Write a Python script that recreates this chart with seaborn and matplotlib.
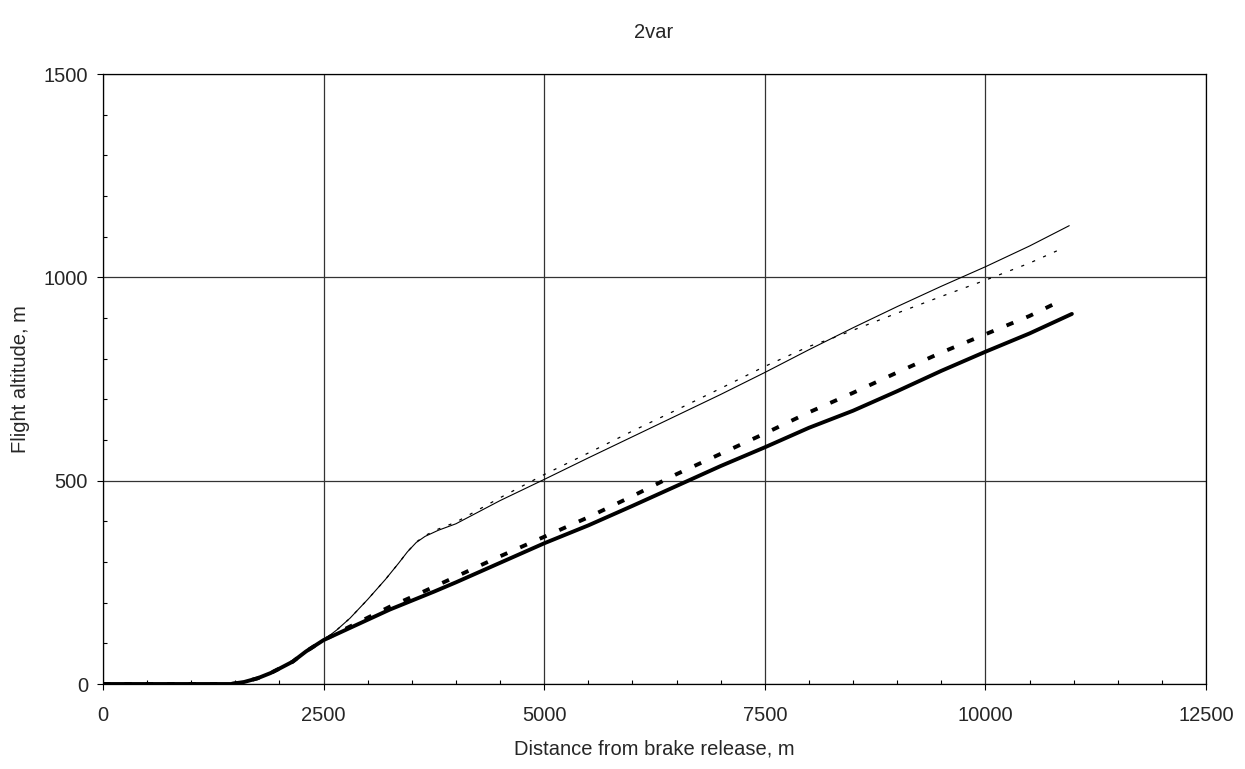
import matplotlib
matplotlib.use("Agg")
import matplotlib.pyplot as plt
from matplotlib.ticker import MultipleLocator
import seaborn as sns
import pandas as pd

# ---- data ----
thin_solid_x = [0, 1000, 1450, 1600, 1750, 1900, 2000, 2150, 2300, 2500, 2650, 2800, 3000, 3200, 3350,
                3450, 3550, 3650, 3800, 4000, 4500, 5000, 5500, 6000, 6500, 7000, 7500, 8000, 8500,
                9000, 9500, 10000, 10500, 10950]
thin_solid_y = [0, 0, 0, 5, 14, 27, 38, 55, 80, 108, 133, 162, 208, 257, 297,
                325, 348, 363, 378, 394, 451, 503, 556, 608, 660, 712, 766, 822, 876,
                928, 978, 1026, 1077, 1127]

thin_dot_x = [0, 1000, 1450, 1600, 1750, 1900, 2000, 2150, 2300, 2500, 2650, 2800, 3000, 3200, 3350,
              3450, 3550, 3650, 3800, 4000, 4500, 5000, 5500, 6000, 6500, 7000, 7500, 8000, 8250,
              8500, 9000, 9500, 10000, 10500, 10850]
thin_dot_y = [0, 0, 0, 5, 14, 27, 38, 55, 80, 108, 133, 162, 208, 257, 297,
              325, 349, 365, 381, 398, 458, 515, 568, 622, 674, 727, 781, 830, 849,
              870, 912, 953, 993, 1035, 1069]

thick_solid_x = [0, 1000, 1450, 1600, 1750, 1900, 2000, 2150, 2300, 2500, 2750, 3000, 3250, 3500, 3750,
                 4000, 4500, 5000, 5500, 6000, 6500, 7000, 7500, 8000, 8500, 9000, 9500, 10000, 10500, 10980]
thick_solid_y = [0, 0, 0, 5, 14, 27, 38, 55, 80, 108, 133, 158, 183, 205, 227,
                 250, 298, 346, 390, 438, 487, 536, 582, 630, 672, 720, 770, 817, 862, 910]

thick_dash_x = [0, 1000, 1450, 1600, 1750, 1900, 2000, 2150, 2300, 2500, 2750, 3000, 3250, 3500, 3750,
                4000, 4500, 5000, 5500, 6000, 6500, 7000, 7500, 8000, 8500, 9000, 9500, 10000, 10500, 10850]
thick_dash_y = [0, 0, 0, 5, 14, 27, 38, 55, 80, 108, 136, 163, 190, 214, 239,
                264, 314, 362, 410, 462, 516, 566, 616, 668, 716, 766, 815, 860, 905, 942]

x_ticks = [0, 2500, 5000, 7500, 10000, 12500]
y_ticks = [0, 500, 1000, 1500]
title = "2var"
x_label = "Distance from brake release, m"
y_label = "Flight altitude, m"

# ---- styling ----
sns.set_style("white")
plt.rcParams['font.family'] = ['Liberation Sans', 'DejaVu Sans']
FS = 14.5

fig = plt.figure(figsize=(12.45, 7.69), dpi=100)
ax = fig.add_axes([103 / 1245, 1 - 684 / 769, (1206 - 103) / 1245, (684 - 74) / 769])

series = [
    (thin_dot_x, thin_dot_y, dict(linewidth=0.9, linestyle=(0, (2.5, 7)))),
    (thin_solid_x, thin_solid_y, dict(linewidth=0.8, linestyle="-")),
    (thick_dash_x, thick_dash_y, dict(linewidth=2.8, linestyle=(0, (1.9, 3.6)))),
    (thick_solid_x, thick_solid_y, dict(linewidth=2.8, linestyle="-")),
]
for xs, ys, kw in series:
    df = pd.DataFrame({"x": xs, "y": ys})
    sns.lineplot(data=df, x="x", y="y", ax=ax, color="black", sort=False,
                 estimator=None, **kw)

ax.set_xlim(0, 12500)
ax.set_ylim(0, 1500)
ax.set_xticks(x_ticks)
ax.set_yticks(y_ticks)
ax.set_xticklabels([str(t) for t in x_ticks])
ax.set_yticklabels([str(t) for t in y_ticks])
ax.xaxis.set_minor_locator(MultipleLocator(500))
ax.yaxis.set_minor_locator(MultipleLocator(100))
ax.tick_params(which="major", direction="out", length=4.5, width=0.8, color="black",
               labelsize=FS, bottom=True, left=True)
ax.tick_params(axis="x", which="major", pad=11.6)
ax.tick_params(axis="y", which="major", pad=6.3)
ax.tick_params(which="minor", direction="in", length=3, width=0.8, color="black",
               bottom=True, left=True)
ax.grid(True, which="major", color="#333333", linewidth=0.9)
ax.set_axisbelow(True)
for s in ax.spines.values():
    s.set_color("black")
    s.set_linewidth(0.9)

ax.set_xlabel(x_label, fontsize=FS, labelpad=10)
ax.set_ylabel(y_label, fontsize=FS, labelpad=10)
fig.text(654 / 1245, 1 - 32 / 769, title, ha="center", va="center", fontsize=FS)

fig.savefig("out.png", dpi=100)
